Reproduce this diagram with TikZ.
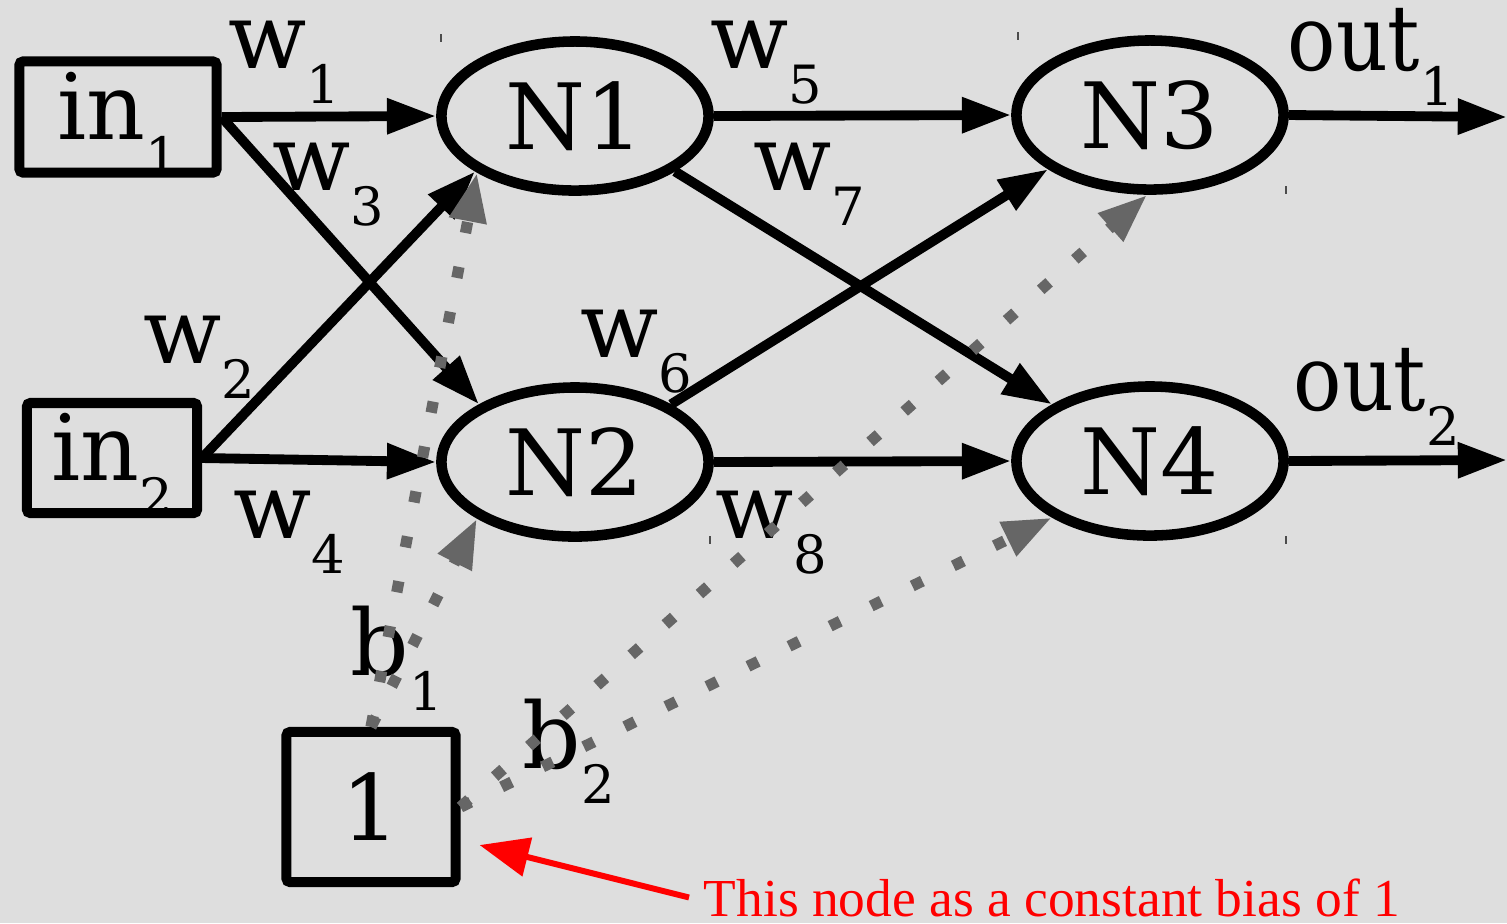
\documentclass[tikz,border=0pt]{standalone}
\usepackage{fontspec}
\setmainfont{DejaVu Serif}
\newfontfamily\notefont{Liberation Serif}
\usetikzlibrary{shapes.geometric,arrows.meta}
\definecolor{bggray}{HTML}{DEDEDE}
\definecolor{biasgray}{HTML}{666666}
\newcommand{\lsub}[2]{#1\raisebox{-10pt}{\fontsize{15}{15}\selectfont #2}}

\tikzset{
  neuron/.style={ellipse,draw,line width=3pt,inner sep=0pt,minimum width=2.67cm,minimum height=1.49cm,font=\fontsize{26}{26}\selectfont},
  inbox/.style={rectangle,draw,line width=2.85pt,rounded corners=1pt,inner sep=0pt,font=\fontsize{26}{26}\selectfont},
  wire/.style={line width=2.8pt,-{Triangle[length=14pt,width=9.6pt]}},
  biaswire/.style={biasgray,line width=3.2pt,dash pattern=on 3.2pt off 9.8pt,-{Triangle[length=14pt,width=10pt]}},
  wlabel/.style={anchor=base west,inner sep=0pt,font=\fontsize{26}{26}\selectfont},
}

\begin{document}
\begin{tikzpicture}[x=0.01cm,y=-0.01cm]
  \fill[bggray] (0,0) rectangle (1507,923);
  \useasboundingbox (0,0) rectangle (1507,923);

  % input boxes and the bias box
  \node[inbox,minimum width=1.97cm,minimum height=1.11cm,text height=20pt,text depth=7pt] (in1) at (118,117) {\lsub{in}{1}};
  \node[inbox,minimum width=1.70cm,minimum height=1.10cm,text height=20pt,text depth=7pt] (in2) at (112,458) {\lsub{in}{2}};
  \node[inbox,minimum width=1.69cm,minimum height=1.50cm] (bias) at (371,807) {1};

  % neurons
  \node[neuron] (N1) at (575,116) {N1};
  \node[neuron] (N2) at (575,462) {N2};
  \node[neuron] (N3) at (1150,115) {N3};
  \node[neuron] (N4) at (1150,461) {N4};

  \coordinate (out1) at (1507,117);
  \coordinate (out2) at (1507,460);

  \foreach \x/\y in {441/38,1018/36,1286/190,710/540,1286/540} \draw[line width=0.4pt,black!70] (\x,\y-4) -- (\x,\y+4);

  % weighted connections
  \draw[wire] (in1.east) -- (N1.west);
  \draw[wire] (in1.east) -- (N2.149);
  \draw[wire] (in2.east) -- (N1.209);
  \draw[wire] (in2.east) -- (N2.west);
  \draw[wire] (N1.east) -- (N3.west);
  \draw[wire] (N1.-29) -- (N4.150);
  \draw[wire] (N2.31) -- (N3.208);
  \draw[wire] (N2.east) -- (N4.west);
  \draw[wire] (N3.east) -- (out1);
  \draw[wire] (N4.east) -- (out2);

  \node[wlabel] (w1) at (228,68) {\lsub{w}{1}};
  \node[wlabel] (w2) at (143,363) {\lsub{w}{2}};
  \node[wlabel] (w3) at (272,190) {\lsub{w}{3}};
  \node[wlabel] (w4) at (233,538) {\lsub{w}{4}};
  \node[wlabel] (w5) at (710,68) {\lsub{w}{5}};
  \node[wlabel] (w6) at (580,357) {\lsub{w}{6}};
  \node[wlabel] (w7) at (753,190) {\lsub{w}{7}};
  \node[wlabel] (w8) at (715,538) {\lsub{w}{8}};
  \node[wlabel] (lout1) at (1287,70) {\lsub{\scalebox{0.88}[1]{out}}{1}};
  \node[wlabel] (lout2) at (1293,410) {\lsub{\scalebox{0.88}[1]{out}}{2}};
  \node[wlabel] (b1) at (350,675) {\lsub{b}{1}};
  \node[wlabel] (b2) at (522,768) {\lsub{b}{2}};

  % bias connections
  \draw[biaswire] (bias.north) -- (N1.210);
  \draw[biaswire] (bias.north) -- (N2.210);
  \draw[biaswire] (bias.east) -- (N3.268);
  \draw[biaswire] (bias.east) -- (N4.210);

  % note
  \node[anchor=base west,inner xsep=4pt,inner ysep=0pt,text=red,font=\notefont\fontsize{15.2}{15.2}\selectfont] (note) at (689,916) {This node as a constant bias of 1};
  \draw[red,line width=1.7pt,-{Triangle[length=14pt,width=11pt]}] (note.west) -- ([xshift=0.19cm,yshift=-0.38cm]bias.east);
\end{tikzpicture}
\end{document}
